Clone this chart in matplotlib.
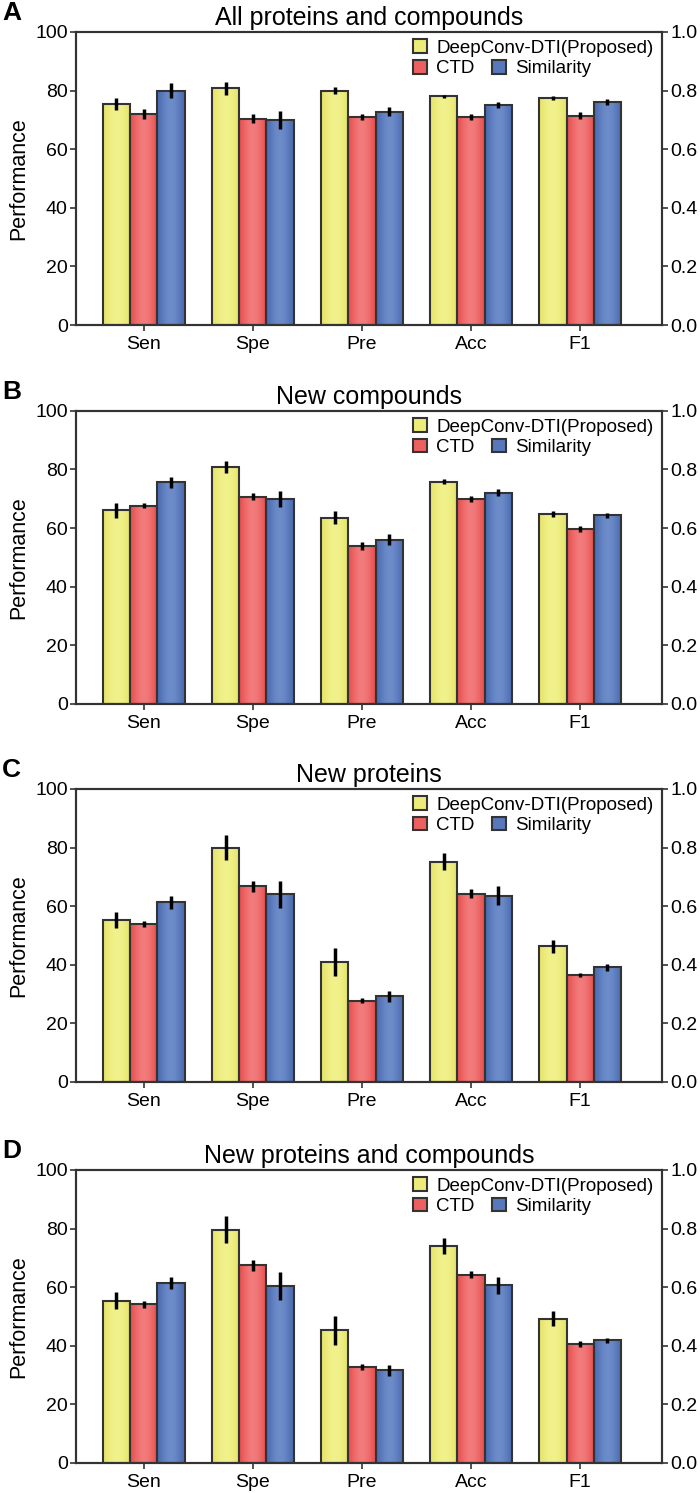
import matplotlib
matplotlib.use('Agg')
import matplotlib.pyplot as plt
from matplotlib.patches import Patch
from matplotlib.colors import LinearSegmentedColormap
import numpy as np

plt.rcParams['font.family'] = ['Liberation Sans', 'DejaVu Sans']

metrics = ['Sen', 'Spe', 'Pre', 'Acc', 'F1']
methods = ['DeepConv-DTI(Proposed)', 'CTD', 'Similarity']
colors = ['#EDEC78', '#EE6060', '#5878BC']
# edge / centre shades for the slight bar shading
shades = [('#E6E56C', '#F2F28E'), ('#E85252', '#F37D7D'), ('#4D6DB3', '#6E8DCA')]

titles = ['All proteins and compounds', 'New compounds', 'New proteins',
          'New proteins and compounds']
letters = ['A', 'B', 'C', 'D']

# values per panel: rows = methods, cols = metrics
all_vals = [[75.4, 80.8, 80.0, 78.0, 77.5],
            [71.9, 70.4, 71.0, 71.1, 71.4],
            [80.0, 69.9, 72.8, 75.0, 76.1]]
all_err = [[2.0, 2.2, 1.3, 0.6, 0.7],
           [1.7, 1.5, 1.1, 1.0, 1.2],
           [2.6, 3.0, 1.6, 1.0, 1.0]]

comp_vals = [[66.1, 80.8, 63.5, 75.9, 64.7],
             [67.7, 70.7, 53.8, 69.8, 59.7],
             [75.6, 70.0, 56.1, 72.1, 64.4]]
comp_err = [[2.6, 2.0, 2.2, 0.8, 1.0],
            [1.0, 1.2, 1.4, 1.0, 1.0],
            [1.8, 2.8, 1.8, 1.2, 0.9]]

prot_vals = [[55.2, 80.0, 40.9, 75.2, 46.3],
             [54.0, 66.7, 27.8, 64.3, 36.5],
             [61.3, 64.0, 29.2, 63.5, 39.2]]
prot_err = [[2.7, 4.2, 4.8, 2.8, 2.2],
            [1.0, 1.8, 1.0, 1.4, 0.8],
            [2.2, 4.5, 2.0, 3.2, 1.2]]

both_vals = [[55.4, 79.6, 45.3, 74.1, 49.3],
             [54.2, 67.4, 32.8, 64.3, 40.6],
             [61.5, 60.3, 31.7, 60.6, 41.8]]
both_err = [[2.8, 4.7, 4.9, 2.8, 2.6],
            [1.2, 1.8, 1.0, 1.1, 1.0],
            [2.0, 4.8, 1.9, 2.8, 0.9]]

panels = [(all_vals, all_err), (comp_vals, comp_err),
          (prot_vals, prot_err), (both_vals, both_err)]

fig = plt.figure(figsize=(7, 14.93), dpi=100)
bottoms = [0.7823, 0.5285, 0.2753, 0.0201]
x = np.arange(len(metrics))
w = 0.25
edge = '#333333'
grad = np.array([[0, 0.5, 0.85, 1, 0.85, 0.5, 0]])

for k, (vals, errs) in enumerate(panels):
    ax = fig.add_axes([0.1086, bottoms[k], 0.8371, 0.1963])
    for i in range(3):
        b = ax.bar(x + (i - 1) * w, vals[i], w, facecolor='none', edgecolor=edge,
                   linewidth=1.5, yerr=errs[i], zorder=2,
                   error_kw={'elinewidth': 2.5, 'ecolor': 'black', 'capsize': 0,
                             'zorder': 3})
        cmap = LinearSegmentedColormap.from_list('c%d' % i, shades[i])
        for r in b:
            im = ax.imshow(grad, cmap=cmap, vmin=0, vmax=1, aspect='auto',
                           interpolation='bicubic', zorder=1,
                           extent=(r.get_x(), r.get_x() + r.get_width(), 0, r.get_height()))
            im.set_clip_path(r)
    ax.set_xlim(-0.62, 4.75)
    ax.set_ylim(0, 100)
    ax.set_yticks([0, 20, 40, 60, 80, 100])
    ax.set_xticks(x)
    ax.set_xticklabels(metrics)
    ax.tick_params(labelsize=14, direction='out', length=4, width=1.2,
                   color=edge, pad=2)
    ax.tick_params(axis='x', pad=4)
    ax.set_ylabel('Performance', fontsize=15.5, labelpad=4)
    ax.set_title(titles[k], fontsize=18, pad=5)
    for s in ax.spines.values():
        s.set_linewidth(1.5)
        s.set_color(edge)

    ax2 = ax.twinx()
    ax2.set_ylim(0, 1.0)
    ax2.set_yticks([0.0, 0.2, 0.4, 0.6, 0.8, 1.0])
    ax2.set_yticklabels(['0.0', '0.2', '0.4', '0.6', '0.8', '1.0'])
    ax2.tick_params(labelsize=14, direction='out', length=4, width=1.2,
                    color=edge, pad=2)
    for s in ax2.spines.values():
        s.set_linewidth(1.5)
        s.set_color(edge)

    handles = [Patch(facecolor=c, edgecolor=edge, linewidth=1.5) for c in colors]
    leg1 = ax.legend(handles[:1], methods[:1], loc='upper left',
                     bbox_to_anchor=(0.575, 0.975), frameon=False, fontsize=13.5,
                     handlelength=0.75, handleheight=0.75, handletextpad=0.5,
                     borderpad=0, borderaxespad=0)
    ax.add_artist(leg1)
    ax.legend(handles[1:], methods[1:], loc='upper left',
              bbox_to_anchor=(0.575, 0.905), frameon=False, fontsize=13.5, ncol=2,
              handlelength=0.75, handleheight=0.75, handletextpad=0.5,
              columnspacing=0.9, borderpad=0, borderaxespad=0)

    top = bottoms[k] + 0.1963
    fig.text(0.003, top + 0.0205, letters[k], fontsize=19, fontweight='bold',
             ha='left', va='top')

fig.savefig('out.png', dpi=100)
